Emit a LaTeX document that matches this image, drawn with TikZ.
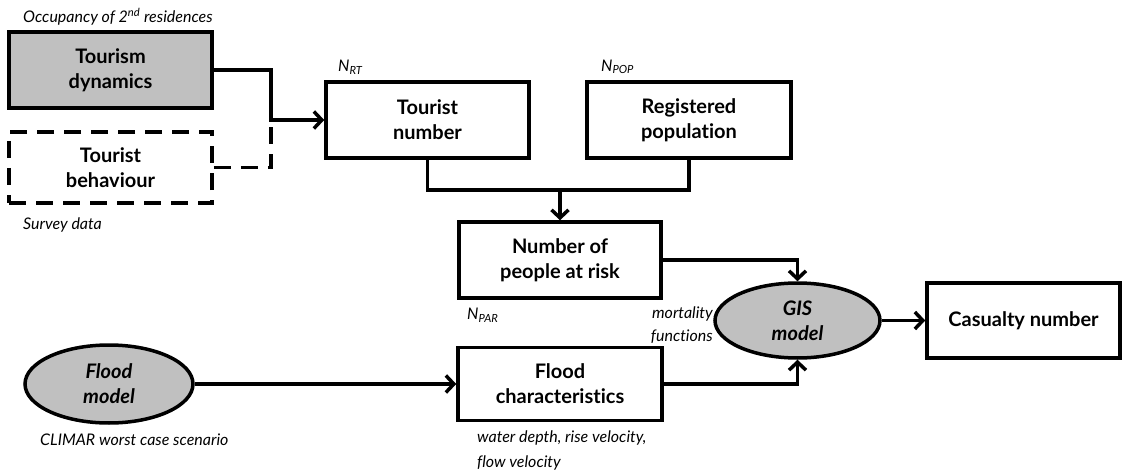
\documentclass[tikz,border=0pt]{standalone}
\usepackage{fontspec}
\setmainfont{Lato}[Ligatures=NoCommon]
\usepackage{xcolor}
\usetikzlibrary{positioning, arrows.meta, shapes.geometric}
\definecolor{boxgray}{HTML}{C0C0C0}
\tikzset{
  stagebox/.style={draw, line width=3.5pt, rectangle, align=center,
    font=\bfseries\fontsize{20}{25}\selectfont},
  modelnode/.style={draw, line width=3.5pt, ellipse, fill=boxgray, align=center,
    font=\bfseries\itshape\fontsize{20}{25}\selectfont},
  note/.style={font=\itshape\fontsize{16}{25}\selectfont, inner sep=0pt},
  link/.style={line width=3.5pt},
  arr/.style={link, -{Straight Barb[length=8pt,width=17pt]}},
  dashlink/.style={link, dash pattern=on 17pt off 10pt}
}

\begin{document}
\begin{tikzpicture}[x=1pt, y=-1pt]
    \useasboundingbox (0,0) rectangle (1122,476);
    % inputs on the tourism side
    \node[stagebox, fill=boxgray, minimum width=203pt, minimum height=76pt] (tdyn) at (110.5,70) {Tourism\\dynamics};
    \node[stagebox, dash pattern=on 17pt off 10pt, minimum width=203pt, minimum height=71pt] (tbeh) at (110.5,167.5) {Tourist\\behaviour};
    \node[stagebox, minimum width=203pt, minimum height=76pt] (tnum) at (427.5,120) {Tourist\\number};
    \node[stagebox, minimum width=204pt, minimum height=76pt] (regpop) at (689,120) {Registered\\population};
    \node[stagebox, minimum width=202pt, minimum height=76pt] (npar) at (560,260) {Number of\\people at risk};
    % flood side
    \node[modelnode, minimum width=168pt, minimum height=78pt, inner sep=0pt] (fmodel) at (109,384) {Flood\\model};
    \node[stagebox, minimum width=204pt, minimum height=73pt] (fchar) at (560,384) {Flood\\characteristics};
    \node[modelnode, minimum width=165pt, minimum height=75pt, inner sep=0pt] (gis) at (797.5,320.5) {GIS\\model};
    \node[stagebox, minimum width=193pt, minimum height=75pt] (casualty) at (1023.5,320.5) {Casualty number};

    % notes
    \node[note, anchor=west] (occnote) at (23,17) {Occupancy of 2\textsuperscript{nd} residences};
    \node[note, anchor=west] (survnote) at (23,225) {Survey data};
    \node[note, anchor=west] (nrt) at (338,67) {N\textsubscript{RT}};
    \node[note, anchor=west] (npop) at (601,67) {N\textsubscript{POP}};
    \node[note, anchor=west] (nparnote) at (467,315) {N\textsubscript{PAR}};
    \node[note, anchor=east, align=right, font=\itshape\fontsize{16}{23}\selectfont] (mortnote) at (713,325) {mortality\\functions};
    \node[note, anchor=west] (climnote) at (40,440) {CLIMAR worst case scenario};
    \node[note, anchor=north west, align=left] (watnote) at (477,431) {water depth, rise velocity,\\flow velocity};

    % connectors
    \coordinate (join) at (271,120);
    \coordinate (merge) at (560,190);
    \draw[arr] (tdyn.east) -| (join) -- (tnum.west);
    \draw[dashlink] (tbeh.east) -| (join);
    \draw[link] (tnum.south) |- (merge) -| (regpop.south);
    \draw[arr] (merge) -- (npar.north);
    \draw[arr] (npar.east) -| (gis.north);
    \draw[arr] (fchar.east) -| (gis.south);
    \draw[arr] (fmodel.east) -- (fchar.west);
    \draw[arr] (gis.east) -- (casualty.west);
\end{tikzpicture}
\end{document}
